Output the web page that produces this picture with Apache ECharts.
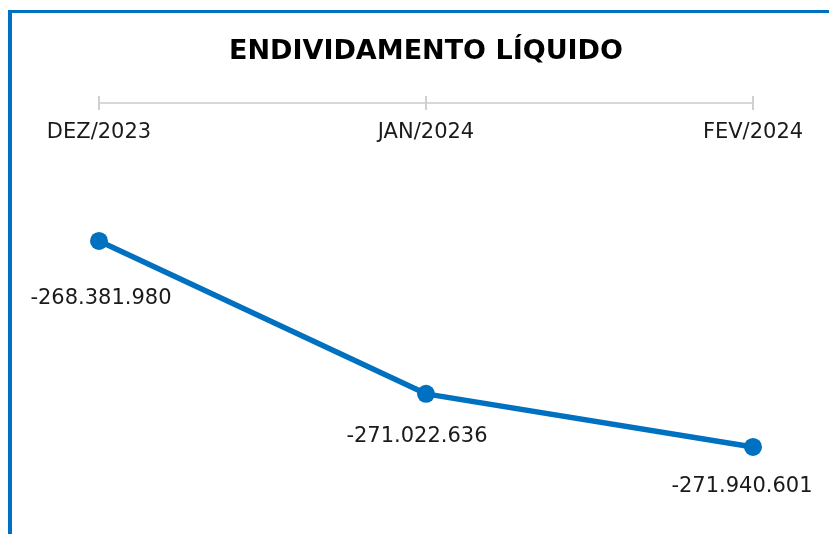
<!DOCTYPE html>
<html>
<head>
<meta charset="utf-8">
<script src="https://cdn.jsdelivr.net/npm/echarts@6/dist/echarts.min.js"></script>
<style>
html,body{margin:0;padding:0;background:#fff;}
#chart{width:829px;height:534px;}
</style>
</head>
<body>
<div id="chart"></div>
<script>
const titleText = 'ENDIVIDAMENTO LÍQUIDO';
const categories = ['DEZ/2023', 'JAN/2024', 'FEV/2024'];
const values = [-268381980, -271022636, -271940601];
const labelOffsets = [[2, 58], [-9, 43], [-11, 40]];

function fmt(v) {
  const s = Math.abs(v).toString().replace(/\B(?=(\d{3})+(?!\d))/g, '.');
  return (v < 0 ? '-' : '') + s;
}

const blue = '#0070C0';
const chart = echarts.init(document.getElementById('chart'), null, {renderer: 'canvas'});
chart.setOption({
  backgroundColor: '#ffffff',
  animation: false,
  grid: {left: 99, right: 76, top: 103, bottom: 25.7},
  xAxis: [{
    type: 'category',
    position: 'top',
    data: categories,
    boundaryGap: false,
    axisLine: {show: true, lineStyle: {color: '#cccccc', width: 1.5}},
    axisTick: {show: true, length: 7, lineStyle: {color: '#d0d0d0', width: 2}},
    axisLabel: {show: true, inside: true, margin: 19, fontFamily: 'DejaVu Sans', fontSize: 21, color: '#1a1a1a'},
    splitLine: {show: false}
  }, {
    type: 'category',
    position: 'top',
    data: categories,
    boundaryGap: false,
    axisLine: {show: false},
    axisTick: {show: true, inside: true, length: 7, lineStyle: {color: '#d0d0d0', width: 2}},
    axisLabel: {show: false},
    splitLine: {show: false}
  }],
  yAxis: {
    type: 'value',
    min: -273000000,
    max: -265998149,
    show: false,
    splitLine: {show: false}
  },
  graphic: [
    {type: 'rect', shape: {x: 8, y: 10, width: 4, height: 524}, style: {fill: blue}, z: 100},
    {type: 'rect', shape: {x: 8, y: 10, width: 821, height: 3}, style: {fill: blue}, z: 100},
    {type: 'text', x: 426, y: 52, style: {text: titleText, fontFamily: 'DejaVu Sans', fontWeight: 'bold', fontSize: 27, fill: '#000000', textAlign: 'center', textVerticalAlign: 'middle'}}
  ],
  series: [{
    type: 'line',
    data: values.map((v, i) => ({
      value: v,
      label: {offset: labelOffsets[i]}
    })),
    lineStyle: {color: blue, width: 5.5},
    itemStyle: {color: blue},
    symbol: 'circle',
    symbolSize: 18,
    label: {
      show: true,
      position: 'inside',
      formatter: p => fmt(p.value),
      fontFamily: 'DejaVu Sans',
      fontSize: 21,
      color: '#1a1a1a'
    }
  }]
});
</script>
</body>
</html>
